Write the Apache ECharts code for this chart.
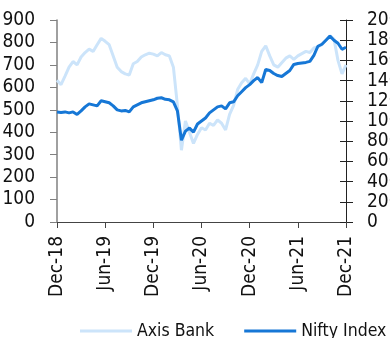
<!DOCTYPE html>
<html>
<head>
<meta charset="utf-8">
<script src="https://cdn.jsdelivr.net/npm/echarts@6/dist/echarts.min.js"></script>
<style>
  html, body { margin: 0; padding: 0; background: #fff; }
  #chart { width: 390px; height: 338px; }
</style>
</head>
<body>
<div id="chart"></div>
<script>
// x = half-month steps from Dec-18 (0) to Dec-21 (72)
const tickLabels = ['Dec-18', 'Jun-19', 'Dec-19', 'Jun-20', 'Dec-20', 'Jun-21', 'Dec-21']

// Axis Bank share price (left axis)
const axisBank = [
  632, 612, 650, 690, 715, 700, 735, 755, 770, 760, 790, 818,
  805, 790, 740, 690, 670, 660, 655, 705, 715, 735, 745, 752,
  748, 740, 755, 745, 740, 690, 520, 320, 450, 400, 350, 390,
  420, 410, 440, 430, 455, 440, 410, 480, 520, 590, 620, 640,
  615, 660, 700, 760, 785, 740, 700, 690, 710, 730, 740, 725,
  740, 750, 760, 755, 775, 780, 790, 810, 830, 815, 720, 660,
  700
]

// Nifty Index (right axis)
const nifty = [
  10900, 10850, 10900, 10800, 10900, 10650, 11000, 11400, 11700, 11600, 11500, 12000,
  11900, 11800, 11500, 11100, 11000, 11050, 10900, 11400, 11600, 11800, 11900, 12000,
  12100, 12250, 12300, 12150, 12100, 11900, 11000, 8100, 9000, 9300, 8900, 9700,
  10000, 10300, 10800, 11100, 11400, 11500, 11200, 11800, 11900, 12500, 12900, 13300,
  13600, 14000, 14300, 13800, 15100, 15000, 14700, 14500, 14400, 14700, 15000, 15600,
  15700, 15750, 15800, 15900, 16500, 17400, 17600, 18000, 18400, 18000, 17700, 17100,
  17300
]

const font = "'Liberation Sans Narrow', 'DejaVu Sans Condensed', sans-serif"
const chart = echarts.init(document.getElementById('chart'), null, { renderer: 'canvas' })

const option = {
  animation: false,
  textStyle: { fontFamily: font },
  grid: { left: 57, right: 44, top: 20, bottom: 116, outerBoundsMode: 'none', containLabel: false },
  legend: {
    top: 317,
    left: 75,
    width: 600,
    icon: 'rect',
    itemWidth: 52,
    itemHeight: 3,
    itemGap: 30,
    textStyle: { fontFamily: font, fontSize: 17.5, color: '#111' },
    data: ['Axis Bank', 'Nifty Index']
  },
  xAxis: {
    type: 'value',
    min: 0,
    max: 72,
    interval: 12,
    splitLine: { show: false },
    axisLine: { lineStyle: { color: '#444', width: 1 } },
    axisTick: { show: true, length: 6, lineStyle: { color: '#444' } },
    axisLabel: {
      rotate: 90,
      margin: 14,
      fontSize: 19,
      color: '#111',
      fontFamily: font,
      formatter: (v) => tickLabels[v / 12]
    }
  },
  yAxis: [
    {
      type: 'value',
      position: 'left',
      min: 0,
      max: 900,
      interval: 100,
      splitLine: { show: false },
      axisLine: { show: true, lineStyle: { color: '#808080', width: 1.5 } },
      axisTick: { show: true, length: 7, lineStyle: { color: '#808080' } },
      axisLabel: { margin: 22, fontSize: 19, color: '#111', fontFamily: font }
    },
    {
      type: 'value',
      position: 'right',
      min: 0,
      max: 20000,
      interval: 2000,
      splitLine: { show: false },
      axisLine: { show: true, lineStyle: { color: '#222', width: 1 } },
      axisTick: { show: true, length: 7, lineStyle: { color: '#222' } },
      axisLabel: { margin: 21, fontSize: 19, color: '#111', fontFamily: font, formatter: (v) => String(v) }
    },
    {
      // inner half of the crossing ticks on the right axis
      type: 'value',
      position: 'right',
      min: 0,
      max: 20000,
      interval: 2000,
      splitLine: { show: false },
      axisLine: { show: false },
      axisTick: { show: true, inside: true, length: 6, lineStyle: { color: '#222' } },
      axisLabel: { show: false }
    }
  ],
  series: [
    {
      name: 'Axis Bank',
      type: 'line',
      yAxisIndex: 0,
      symbol: 'none',
      color: '#cce4fa',
      lineStyle: { width: 3, color: '#cce4fa' },
      data: axisBank.map((v, i) => [i, v])
    },
    {
      name: 'Nifty Index',
      type: 'line',
      yAxisIndex: 1,
      symbol: 'none',
      color: '#1677d6',
      lineStyle: { width: 3, color: '#1677d6' },
      data: nifty.map((v, i) => [i, v])
    }
  ]
}

chart.setOption(option)
</script>
</body>
</html>
